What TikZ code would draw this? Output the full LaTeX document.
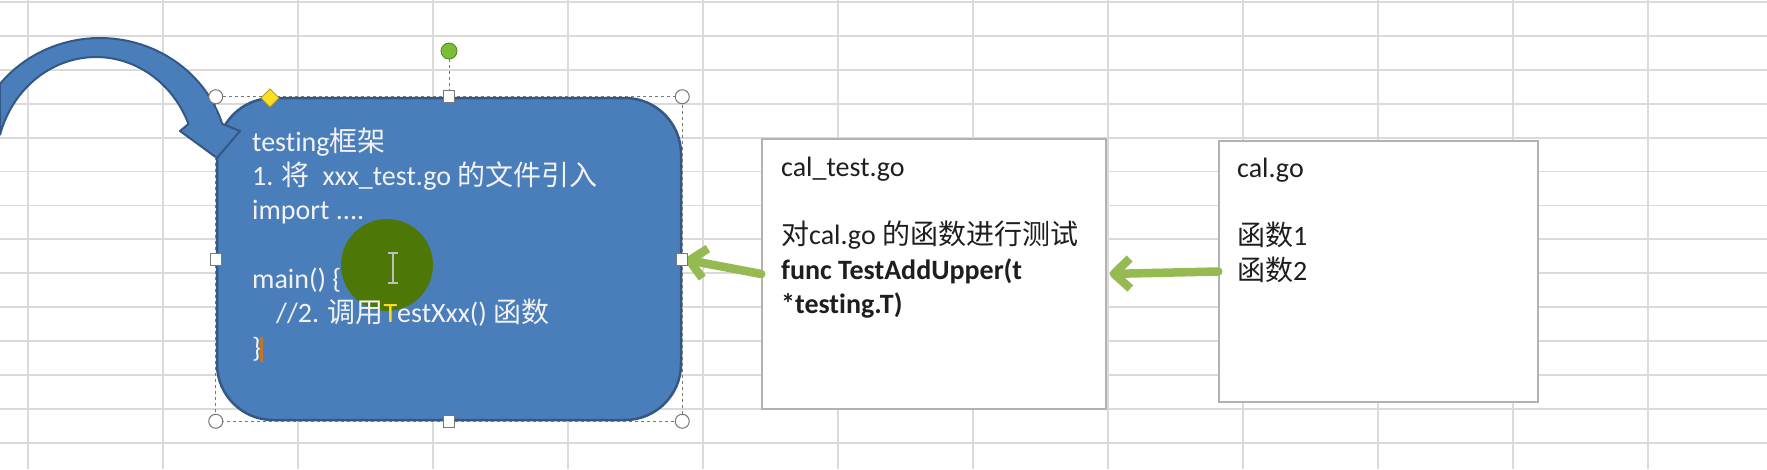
\documentclass[tikz,border=0pt]{standalone}
\usepackage{fontspec}
\setmainfont{Carlito}[Ligatures = NoCommon]
\newfontfamily\zhfont{Noto Sans CJK SC}
\newcommand{\zh}[1]{{\zhfont #1}}
\usetikzlibrary{arrows.meta}

\definecolor{gridgray}{RGB}{218,218,218}
\definecolor{shapeblue}{RGB}{74,126,187}
\definecolor{shapeedge}{RGB}{52,88,134}
\definecolor{arrowgreen}{RGB}{150,186,82}
\definecolor{boxedge}{RGB}{178,178,178}
\definecolor{selgray}{RGB}{120,120,120}
\definecolor{rotgreen}{RGB}{122,190,56}
\definecolor{handleyellow}{RGB}{255,222,40}
\definecolor{cursorgreen}{RGB}{78,120,6}
\definecolor{beamgray}{RGB}{190,190,190}
\definecolor{caretorange}{RGB}{196,116,40}
\definecolor{textwhite}{RGB}{242,242,242}
\definecolor{textdark}{RGB}{30,30,30}

\begin{document}
\begin{tikzpicture}[x = 1pt, y = -1pt,
    gridline/.style = {gridgray, line width = 1.8pt},
    shapebox/.style = {draw = shapeedge, fill = shapeblue, line width = 2.5pt,
      rounded corners = 56pt, minimum width = 464pt, minimum height = 322pt, inner sep = 0pt},
    filebox/.style = {draw = boxedge, fill = white, line width = 1.5pt, inner sep = 0pt},
    boxtext/.style = {anchor = north west, align = left, inner sep = 0pt,
      font = \fontsize{28}{34.3}\selectfont},
    greenarrow/.style = {draw = arrowgreen, line width = 8.5pt, line cap = round,
      -{Straight Barb[length = 16pt, width = 30pt, line join = round]}, shorten > = 3pt},
    cornerhandle/.style = {fill = white, draw = selgray, line width = 1pt},
    sidehandle/.style = {fill = white, draw = selgray, line width = 1pt,
      minimum width = 11pt, minimum height = 12pt, inner sep = 0pt}]

        \useasboundingbox (0, 0) rectangle (1767, 469);
        \fill[white] (0, 0) rectangle (1767, 469);

        \foreach \x in {28, 163, ..., 1648} {
          \draw [gridline] (\x, 0) -- (\x, 469);
        }
        \foreach \i in {0, 1, ..., 13} {
          \draw [gridline] (0, {2 + 33.9 * \i}) -- (1767, {2 + 33.9 * \i});
        }

        \node[shapebox] (frame) at (449, 259) {};
        \node[filebox, minimum width = 344pt, minimum height = 270pt] (caltest) at (934, 274) {};
        \node[filebox, minimum width = 319pt, minimum height = 261pt] (cal) at (1378.5, 271.5) {};

        \draw [greenarrow] (cal.west) -- (caltest.east);
        \draw [greenarrow] (caltest.west) -- (frame.east);

        \filldraw[fill = shapeblue, draw = shapeedge, line width = 2pt, line join = round]
          plot[domain = 141.4:17.2, samples = 40] ({100 + 128 * cos(\x)}, {160 - 122 * sin(\x)})
          -- (240, 131) -- (217, 158) -- (180, 131)
          -- plot[domain = 22.3:163.7, samples = 40] ({96 + 100 * cos(\x)}, {165 - 108 * sin(\x)})
          -- cycle;

        \fill[cursorgreen] (387, 265) circle (46pt);

        \node[boxtext, text = textwhite] (frametext) at (252, 127) {
          \strut testing\zh{框架}\\
          1. \zh{将}\ \ xxx\_test.go \zh{的文件引入}\\
          import ....\\
          ~\\
          main() \{\\
          \hspace*{24pt}//2. \zh{调用}{\color{handleyellow}T}estXxx() \zh{函数}\\
          \}};
        \node[boxtext, text = textdark] (caltesttext) at (781, 152) {
          \strut cal\_test.go\\
          ~\\
          \zh{对}cal.go \zh{的函数进行测试}\\
          \textbf{func TestAddUpper(t}\\
          \textbf{*testing.T)}};
        \node[boxtext, text = textdark] (caltext) at (1237, 153) {
          \strut cal.go\\
          ~\\
          \zh{函数}1\\
          \zh{函数}2};

        \draw [selgray, dashed, line width = 1pt] (frame.north west) rectangle (frame.south east);
        \draw [selgray, dashed, line width = 1pt] (449, 59) -- (frame.north);
        \filldraw[fill = rotgreen, draw = rotgreen!70!black, line width = 0.8pt] (449, 51) circle (8pt);
        \foreach \c in {north west, north east, south west, south east} {
          \filldraw[cornerhandle] (frame.\c) circle (7pt);
        }
        \foreach \c in {north, south, east, west} {
          \node[sidehandle] (handle \c) at (frame.\c) {};
        }
        \filldraw[fill = handleyellow, draw = handleyellow!70!black, line width = 0.8pt]
          (270, 89) -- (279, 98) -- (270, 107) -- (261, 98) -- cycle;

        \draw [beamgray, line width = 1.5pt] (393, 253) -- (393, 283)
          (388, 253) -- (398, 253) (388, 283) -- (398, 283);
        \draw [caretorange, line width = 3pt] (261, 337) -- (261, 362);
      \end{tikzpicture}
\end{document}
